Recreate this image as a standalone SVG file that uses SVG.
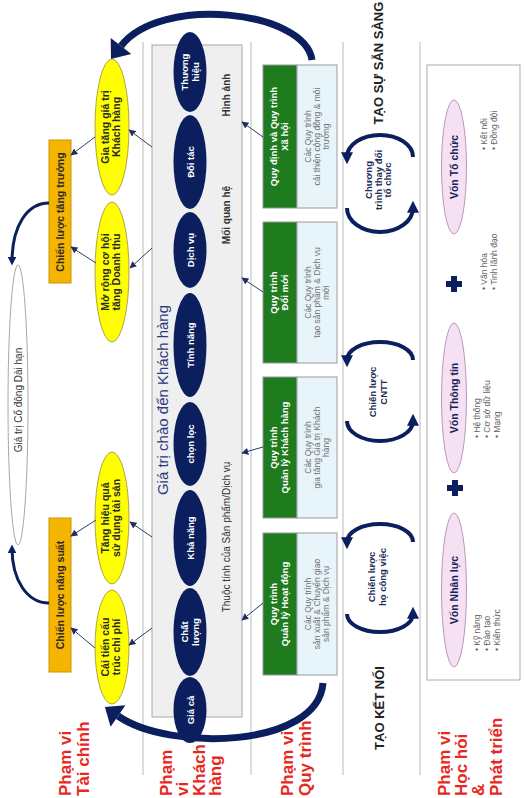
<svg xmlns="http://www.w3.org/2000/svg" width="526" height="798" viewBox="0 0 526 798">
<defs>
<marker id="a1" viewBox="0 0 10 10" refX="9" refY="5" markerWidth="7" markerHeight="7" markerUnits="userSpaceOnUse" orient="auto"><path d="M0,0 L10,5 L0,10 z" fill="#1f2f5f"/></marker>
<marker id="a2" viewBox="0 0 10 10" refX="4" refY="5" markerWidth="12" markerHeight="12" markerUnits="userSpaceOnUse" orient="auto"><path d="M0,0 L10,5 L0,10 z" fill="#0b1f5e"/></marker>
<marker id="a3" viewBox="0 0 10 10" refX="6" refY="5" markerWidth="9" markerHeight="9" markerUnits="userSpaceOnUse" orient="auto"><path d="M0,0 L10,5 L0,10 z" fill="#0b1f5e"/></marker>
<style>
text{font-family:"Liberation Sans",Arial,sans-serif}
.sep{stroke:#c6c6c6;stroke-width:1.2}
.gbox{fill:#efefef;stroke:#a8a8a8;stroke-width:1}
.nav{fill:#0b1f5e}
.nt{fill:#fff;font-size:9.5px;font-weight:bold;text-anchor:middle}
.yel{fill:#ffff00;stroke:#b3a445;stroke-width:1}
.yt{fill:#2a2a2a;font-size:10.5px;font-weight:bold;text-anchor:middle}
.org{fill:#f5b400;stroke:#c99500;stroke-width:1}
.ot{fill:#2a2a2a;font-size:10.5px;font-weight:bold;text-anchor:middle}
.conn{stroke:#2c3b6a;stroke-width:1;fill:none;marker-end:url(#a1)}
.big{stroke:#0b1f5e;stroke-width:7;fill:none}
.tip{fill:#0b1f5e}
.cyc{stroke:#0b1f5e;stroke-width:4;fill:none;marker-end:url(#a2)}
.lc{stroke:#0b1f5e;stroke-width:3;fill:none;marker-end:url(#a3)}
.gh{fill:#1e7b1e;stroke:#9a9a9a;stroke-width:1}
.gb{fill:#e7f5fb;stroke:#9a9a9a;stroke-width:1}
.ght{fill:#fff;font-size:9.5px;font-weight:bold;text-anchor:middle}
.gbt{fill:#707070;font-size:8.5px;text-anchor:middle}
.red{fill:#e8281e;font-size:17px;font-weight:bold}
.cap{fill:#222;font-size:13px;font-weight:bold;text-anchor:middle}
.ct{fill:#1c2a55;font-size:9.5px;font-weight:bold;text-anchor:middle}
.pink{fill:#f6e0f3;stroke:#b89ab8;stroke-width:1}
.vt{fill:#14235a;font-size:10.5px;font-weight:bold;text-anchor:middle}
.bl{fill:#666;font-size:8.5px}
.lbl{fill:#333;font-size:10px;text-anchor:middle}
</style>
</defs>
<rect width="526" height="798" fill="#fff"/>
<g transform="translate(0,798) rotate(-90)">

<g id="separators">
<line class="sep" x1="23" y1="143" x2="756" y2="143"/>
<line class="sep" x1="23" y1="251" x2="756" y2="251"/>
<line class="sep" x1="23" y1="343" x2="756" y2="343"/>
<line class="sep" x1="23" y1="420" x2="756" y2="420"/>
</g>

<g id="labels">
<text class="red" x="2" y="71">Phạm vi</text>
<text class="red" x="2" y="89">Tài chính</text>
<text class="red" x="2" y="172">Phạm</text>
<text class="red" x="2" y="188">vi</text>
<text class="red" x="2" y="205">Khách</text>
<text class="red" x="2" y="221">hàng</text>
<text class="red" x="2" y="293">Phạm vi</text>
<text class="red" x="2" y="311">Quy trình</text>
<text class="red" x="2" y="450">Phạm vi</text>
<text class="red" x="2" y="467">Học hỏi</text>
<text class="red" x="2" y="484">&amp;</text>
<text class="red" x="2" y="502">Phát triển</text>
<text class="cap" x="735" y="383">TẠO SỰ SẴN SÀNG</text>
<text class="cap" x="90" y="384">TẠO KẾT NỐI</text>
</g>

<g id="value-box">
<rect class="gbox" x="81" y="152" width="672" height="90"/>
<text x="398" y="168" font-size="15" fill="#2b3a7e" text-anchor="middle">Giá trị chào đến Khách hàng</text>
<text class="lbl" x="703" y="230" font-weight="bold">Hình ảnh</text>
<text class="lbl" x="583" y="230" font-weight="bold">Mối quan hệ</text>
<text class="lbl" x="261" y="230" font-size="11">Thuộc tính của Sản phẩm/Dịch vụ</text>
</g>

<g id="n-thuonghieu"><ellipse class="nav" cx="726" cy="190" rx="40" ry="16.5"/><text class="nt" x="726" y="188">Thương</text><text class="nt" x="726" y="199">hiệu</text></g>
<g id="n-doitac"><ellipse class="nav" cx="636" cy="190" rx="47" ry="16.5"/><text class="nt" x="636" y="193.5">Đối tác</text></g>
<g id="n-dichvu"><ellipse class="nav" cx="548" cy="190" rx="38" ry="16.5"/><text class="nt" x="548" y="193.5">Dịch vụ</text></g>
<g id="n-tinhnang"><ellipse class="nav" cx="453" cy="190" rx="52" ry="16.5"/><text class="nt" x="453" y="193.5">Tính năng</text></g>
<g id="n-chonloc"><ellipse class="nav" cx="354" cy="190" rx="42" ry="16.5"/><text class="nt" x="354" y="193.5">chọn lọc</text></g>
<g id="n-khanang"><ellipse class="nav" cx="260" cy="190" rx="48" ry="16.5"/><text class="nt" x="260" y="193.5">Khả năng</text></g>
<g id="n-chatluong"><ellipse class="nav" cx="166" cy="190" rx="44" ry="16.5"/><text class="nt" x="166" y="188">Chất</text><text class="nt" x="166" y="199">lượng</text></g>
<g id="n-giaca"><ellipse class="nav" cx="88" cy="190" rx="33" ry="16.5"/><text class="nt" x="88" y="193.5">Giá cả</text></g>

<g id="y-giatang"><ellipse class="yel" cx="671" cy="112" rx="68" ry="17"/><text class="yt" x="671" y="109">Gia tăng giá trị</text><text class="yt" x="671" y="120">Khách hàng</text></g>
<g id="y-morong"><ellipse class="yel" cx="526" cy="112" rx="70" ry="17"/><text class="yt" x="526" y="109">Mở rộng cơ hội</text><text class="yt" x="526" y="120">tăng Doanh thu</text></g>
<g id="y-hieuqua"><ellipse class="yel" cx="280" cy="112" rx="66" ry="17"/><text class="yt" x="280" y="109">Tăng hiệu quả</text><text class="yt" x="280" y="120">sử dụng tài sản</text></g>
<g id="y-caitien"><ellipse class="yel" cx="151" cy="112" rx="57" ry="17"/><text class="yt" x="151" y="109">Cải tiến cấu</text><text class="yt" x="151" y="120">trúc chi phí</text></g>

<g id="o-tangtruong"><rect class="org" x="515" y="49" width="143" height="22"/><text class="ot" x="586" y="64">Chiến lược tăng trưởng</text></g>
<g id="o-nangsuat"><rect class="org" x="126" y="49" width="154" height="22"/><text class="ot" x="203" y="64">Chiến lược năng suất</text></g>

<g id="shareholder"><ellipse cx="393" cy="18" rx="140" ry="10" fill="#fff" stroke="#a8a8a8"/><text x="398" y="22" font-size="10" fill="#333" text-anchor="middle">Giá trị Cổ đông Dài hạn</text></g>

<g id="p-xahoi"><rect class="gh" x="590" y="263" width="143" height="34"/><rect class="gb" x="590" y="297" width="143" height="40"/>
<text class="ght" x="661.5" y="277">Quy định và Quy trình</text><text class="ght" x="661.5" y="288">Xã hội</text>
<text class="gbt" x="661.5" y="311">Các Quy trình</text><text class="gbt" x="661.5" y="320">cải thiện cộng đồng &amp; môi</text><text class="gbt" x="661.5" y="329">trường</text></g>
<g id="p-doimoi"><rect class="gh" x="435" y="263" width="141" height="34"/><rect class="gb" x="435" y="297" width="141" height="40"/>
<text class="ght" x="505.5" y="277">Quy trình</text><text class="ght" x="505.5" y="288">Đổi mới</text>
<text class="gbt" x="505.5" y="311">Các Quy trình</text><text class="gbt" x="505.5" y="320">tạo sản phẩm &amp; Dịch vụ</text><text class="gbt" x="505.5" y="329">mới</text></g>
<g id="p-khachhang"><rect class="gh" x="280" y="263" width="141" height="34"/><rect class="gb" x="280" y="297" width="141" height="40"/>
<text class="ght" x="350.5" y="277">Quy trình</text><text class="ght" x="350.5" y="288">Quản lý Khách hàng</text>
<text class="gbt" x="350.5" y="311">Các Quy trình</text><text class="gbt" x="350.5" y="320">gia tăng Giá trị Khách</text><text class="gbt" x="350.5" y="329">hàng</text></g>
<g id="p-hoatdong"><rect class="gh" x="123" y="263" width="142" height="34"/><rect class="gb" x="123" y="297" width="142" height="40"/>
<text class="ght" x="194" y="277">Quy trình</text><text class="ght" x="194" y="288">Quản lý Hoạt động</text>
<text class="gbt" x="194" y="311">Các Quy trình</text><text class="gbt" x="194" y="320">sản xuất &amp; Chuyển giao</text><text class="gbt" x="194" y="329">sản phẩm &amp; Dịch vụ</text></g>

<g id="c-thaydoi"><text class="ct" x="618" y="372">Chương</text><text class="ct" x="618" y="381.5">trình thay đổi</text><text class="ct" x="618" y="391">tổ chức</text></g>
<g id="c-cntt"><text class="ct" x="406" y="376">Chiến lược</text><text class="ct" x="406" y="387">CNTT</text></g>
<g id="c-hocongviec"><text class="ct" x="221" y="375">Chiến lược</text><text class="ct" x="221" y="386">họ công việc</text></g>

<g id="learning">
<rect x="118" y="427" width="615" height="93" fill="#fff" stroke="#ababab"/>
<path d="M506 454 H522 M514 446 V462 M302 455 H318 M310 447 V463" stroke="#0b1f5e" stroke-width="6"/>
</g>
<g id="v-tochuc"><ellipse class="pink" cx="631" cy="454" rx="67" ry="12.5"/><text class="vt" x="631" y="458">Vốn Tổ chức</text>
<text class="bl" x="508" y="487">• Văn hóa</text><text class="bl" x="508" y="497">• Tinh lãnh đạo</text>
<text class="bl" x="648" y="487">• Kết nối</text><text class="bl" x="648" y="497">• Đồng đội</text></g>
<g id="v-thongtin"><ellipse class="pink" cx="400" cy="454" rx="75" ry="12.5"/><text class="vt" x="400" y="458">Vốn Thông tin</text>
<text class="bl" x="360" y="480">• Hệ thống</text><text class="bl" x="360" y="490">• Cơ sở dữ liệu</text><text class="bl" x="360" y="500">• Mạng</text></g>
<g id="v-nhanluc"><ellipse class="pink" cx="208" cy="454" rx="77" ry="12.5"/><text class="vt" x="208" y="458">Vốn Nhân lực</text>
<text class="bl" x="147" y="480">• Kỹ năng</text><text class="bl" x="147" y="490">• Đào tạo</text><text class="bl" x="147" y="500">• Kiến thức</text></g>

<g id="connectors">
<path class="conn" d="M661 263 L676 242"/>
<path class="conn" d="M506 263 L520 242"/>
<path class="conn" d="M351 263 L345 242"/>
<path class="conn" d="M195 263 L178 242"/>
<path class="conn" d="M651 152 L668 129"/>
<path class="conn" d="M550 152 L530 130"/>
<path class="conn" d="M261 152 L276 130"/>
<path class="conn" d="M170 152 L153 129"/>
<path class="conn" d="M661 95 L643 71"/>
<path class="conn" d="M535 96 L551 71"/>
<path class="conn" d="M278 96 L262 71"/>
<path class="conn" d="M150 95 L170 71"/>
<path class="lc" d="M595 49 C595 27 572 12 536 12"/>
<path class="lc" d="M195 49 C195 27 218 12 250 12"/>
<path class="big" d="M738 312 C788 305 803 160 752 121"/>
<polygon class="tip" points="739,111 744.1,131.3 759.9,110.7"/>
<path class="big" d="M115 323 C50 318 46 170 82 118"/>
<polygon class="tip" points="91.1,104.9 92.7,125.4 71.3,110.6"/>
<path class="cyc" d="M641 413 A22 33 0 0 0 641 347"/>
<path class="cyc" d="M590 347 A24 33 0 0 0 590 413"/>
<path class="cyc" d="M438 413 A18 33 0 0 0 438 347"/>
<path class="cyc" d="M377 347 A20 33 0 0 0 377 413"/>
<path class="cyc" d="M256 413 A18 33 0 0 0 256 347"/>
<path class="cyc" d="M184 347 A18 33 0 0 0 184 413"/>
</g>
</g>
</svg>
